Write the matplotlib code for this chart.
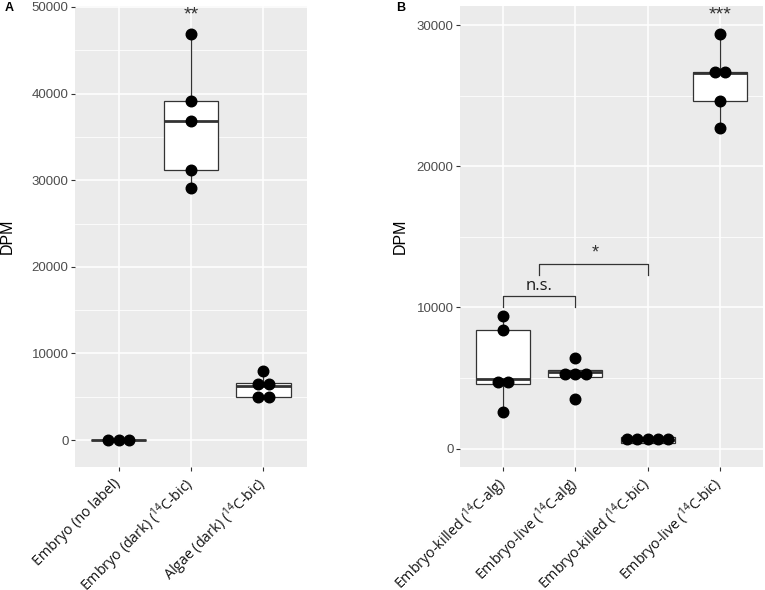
import numpy as np
import matplotlib.pyplot as plt
from matplotlib.ticker import MultipleLocator

plt.rcParams['font.family'] = ['Liberation Sans', 'DejaVu Sans']
plt.rcParams['mathtext.fontset'] = 'custom'
plt.rcParams['mathtext.rm'] = 'Open Sans'

# panel A data (DPM)
labels_a = ['Embryo (no label)',
            'Embryo (dark) ($^{\\mathregular{14}}$C-bic)',
            'Algae (dark) ($^{\\mathregular{14}}$C-bic)']
no_label = [30, 40, 50]
embryo_dark = [29150, 31220, 36830, 39140, 46900]
algae_dark = [4900, 4950, 6250, 6650, 8000]

# panel B data (DPM)
labels_b = ['Embryo-killed ($^{\\mathregular{14}}$C-alg)',
            'Embryo-live ($^{\\mathregular{14}}$C-alg)',
            'Embryo-killed ($^{\\mathregular{14}}$C-bic)',
            'Embryo-live ($^{\\mathregular{14}}$C-bic)']
killed_alg = [2600, 4550, 4950, 8400, 9400]
live_alg = [3540, 5075, 5450, 5550, 6420]
killed_bic = [350, 400, 600, 850, 950]
live_bic = [22680, 24600, 26600, 26700, 29400]

BG = '#EBEBEB'
LINE = '#333333'
LABEL_FONT = ['Open Sans', 'DejaVu Sans']


def dot_positions(vals, binwidth=700, step=0.14):
    # dotplot-like stacking: values in one bin sit side by side at bin centre
    vals = np.sort(np.asarray(vals, dtype=float))
    xs, ys = [], []
    i = 0
    while i < len(vals):
        j = i
        while j < len(vals) and vals[j] - vals[i] < binwidth:
            j += 1
        grp = vals[i:j]
        c = (grp[0] + grp[-1]) / 2
        n = len(grp)
        xs.extend((np.arange(n) - (n - 1) / 2) * step)
        ys.extend([c] * n)
        i = j
    return np.array(xs), np.array(ys)


def draw_panel(ax, groups, labels):
    pos = np.arange(1, len(groups) + 1)
    ax.set_facecolor(BG)
    ax.boxplot(groups, positions=pos, widths=0.75, whis=1.5, showfliers=False,
               showcaps=False, patch_artist=True,
               boxprops=dict(facecolor='white', edgecolor=LINE, linewidth=0.9),
               medianprops=dict(color=LINE, linewidth=2.0),
               whiskerprops=dict(color=LINE, linewidth=0.9), zorder=2)
    for p, g in zip(pos, groups):
        dx, dy = dot_positions(g)
        ax.plot(p + dx, dy, 'o', color='black', markersize=7.6, zorder=3)
    ax.yaxis.set_major_locator(MultipleLocator(10000))
    ax.yaxis.set_minor_locator(MultipleLocator(5000))
    ax.grid(which='major', color='white', linewidth=1.1)
    ax.grid(which='minor', axis='y', color='white', linewidth=0.55)
    ax.set_axisbelow(True)
    ax.tick_params(which='major', length=2.6, width=0.8, color=LINE)
    ax.tick_params(axis='y', labelcolor='#4D4D4D', labelsize=9.5, pad=2)
    ax.tick_params(axis='x', pad=8)
    ax.tick_params(which='minor', length=0)
    ax.set_xticks(pos)
    ax.set_xticklabels(labels, rotation=45, ha='right', va='center',
                       rotation_mode='anchor', fontsize=10.3, color='#111111',
                       family=LABEL_FONT)
    for s in ax.spines.values():
        s.set_visible(False)
    ax.set_xlim(0.4, len(groups) + 0.6)
    ax.set_ylabel('DPM', fontsize=11.5, color='black')


fig = plt.figure(figsize=(7.65, 5.9), dpi=100)
ax_a = fig.add_axes([75 / 765, 123 / 590, 232 / 765, 461 / 590])
ax_b = fig.add_axes([460 / 765, 123 / 590, 303 / 765, 461 / 590])

draw_panel(ax_a, [no_label, embryo_dark, algae_dark], labels_a)
ax_a.set_ylim(-3100, 50100)
ax_a.yaxis.set_label_coords(-0.258, 0.5)
ax_a.text(2, 49100, '**', ha='center', va='center', fontsize=14, color=LINE)

draw_panel(ax_b, [killed_alg, live_alg, killed_bic, live_bic], labels_b)
ax_b.set_ylim(-1300, 31350)
ax_b.yaxis.set_label_coords(-0.172, 0.5)
ax_b.text(4, 30700, '***', ha='center', va='center', fontsize=14, color=LINE)

# significance brackets
ax_b.plot([1, 1, 2, 2], [10035, 10815, 10815, 10035], color=LINE, linewidth=0.9)
ax_b.text(1.5, 10950, 'n.s.', ha='center', va='bottom', fontsize=12,
          color='#1a1a1a', family=LABEL_FONT)
ax_b.plot([1.5, 1.5, 3, 3], [12280, 13060, 13060, 12280], color=LINE, linewidth=0.9)
ax_b.text(2.28, 13250, '*', ha='center', va='bottom', fontsize=13, color=LINE)

fig.text(9 / 765, 1 - 8 / 590, 'A', fontsize=9, fontweight='bold', ha='center', va='center')
fig.text(401 / 765, 1 - 8 / 590, 'B', fontsize=9, fontweight='bold', ha='center', va='center')

fig.savefig('out.png', dpi=100)
